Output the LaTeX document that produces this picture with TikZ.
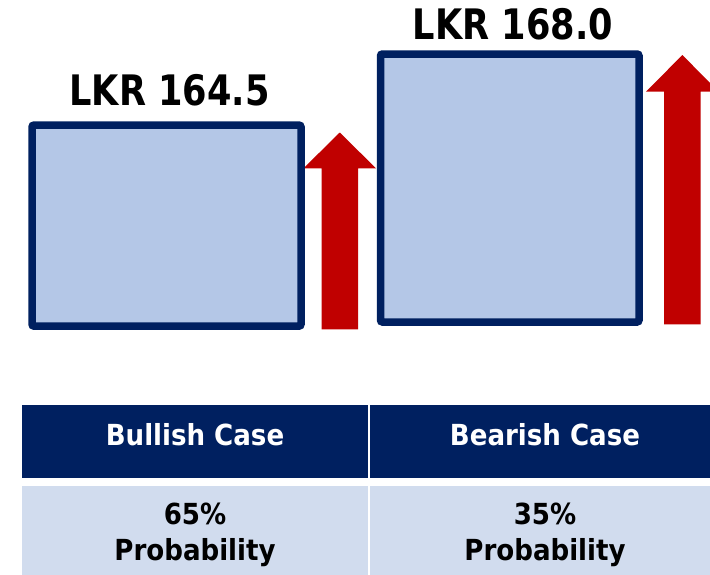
\documentclass[tikz,border=0pt]{standalone}
\usepackage{fontspec}
\setmainfont{DejaVu Sans Condensed}
\definecolor{navy}{HTML}{002060}
\definecolor{boxblue}{HTML}{B4C7E7}
\definecolor{arrowred}{HTML}{C00000}
\definecolor{rowblue}{HTML}{D1DCEE}
\begin{document}
\begin{tikzpicture}[x=1pt,y=-1pt,
  pricebox/.style={draw=navy,fill=boxblue,line width=7.5pt,rounded corners=2pt,inner sep=0pt},
  uparrow/.style={fill=arrowred},
  pricelabel/.style={font=\bfseries\fontsize{42}{42}\selectfont,anchor=base,inner sep=0pt},
  headcell/.style={fill=navy,inner sep=0pt,minimum height=73pt},
  bodycell/.style={fill=rowblue,inner sep=0pt,minimum height=94pt},
  headtext/.style={font=\bfseries\fontsize{29}{29}\selectfont,text=white,anchor=base,inner sep=0pt},
  bodytext/.style={font=\bfseries\fontsize{29}{36}\selectfont,anchor=base,inner sep=0pt,align=center}]
\useasboundingbox (0,0) rectangle (710,574);
\clip (0,0) rectangle (710,574);
% arrows
\fill[uparrow] (321.5,329.3) -- (321.5,168.3) -- (303.5,168.3) -- (339.75,132.5) -- (376,168.3) -- (358,168.3) -- (358,329.3) -- cycle;
\fill[uparrow] (664,324.3) -- (664,91.7) -- (646,91.7) -- (682.35,55) -- (718.7,91.7) -- (700.7,91.7) -- (700.7,324.3) -- cycle;
% boxes
\node[pricebox,minimum width=269pt,minimum height=201pt] (box1) at (166.5,225.6) {};
\node[pricebox,minimum width=258.5pt,minimum height=268pt] (box2) at (509.75,188) {};
\node[pricelabel] (lab1) at (169.5,105) {\scalebox{0.93}[1]{LKR 164.5}};
\node[pricelabel] (lab2) at (513,39.3) {\scalebox{0.93}[1]{LKR 168.0}};
% table
\node[headcell,minimum width=346pt] (h1) at (195,441.5) {};
\node[headcell,minimum width=352pt] (h2) at (546,441.5) {};
\node[bodycell,minimum width=346pt] (b1) at (195,533) {};
\node[bodycell,minimum width=352pt] (b2) at (546,533) {};
\node[headtext] (t1) at (195,445) {Bullish Case};
\node[headtext] (t2) at (545,445) {Bearish Case};
\node[bodytext] (p1a) at (195,524.3) {65\%};
\node[bodytext] (p1b) at (195,560) {Probability};
\node[bodytext] (p2a) at (545,524.3) {35\%};
\node[bodytext] (p2b) at (545,560) {Probability};
\end{tikzpicture}
\end{document}
